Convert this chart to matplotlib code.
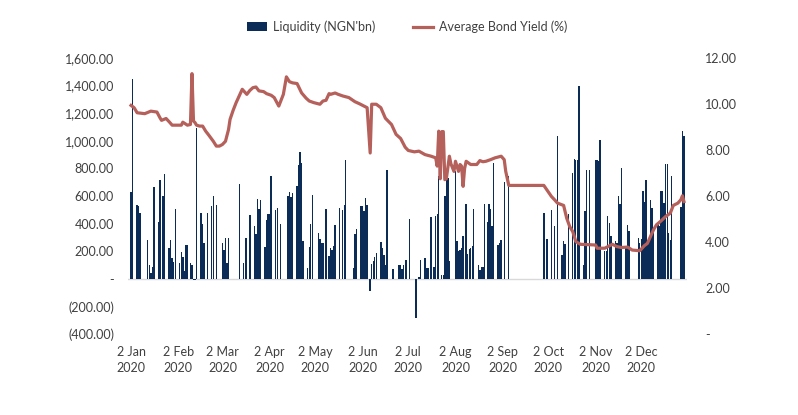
import numpy as np
import pandas as pd
import matplotlib
matplotlib.use("Agg")
import matplotlib.pyplot as plt
from matplotlib.ticker import FuncFormatter
from matplotlib.patches import Patch
from matplotlib.lines import Line2D

plt.rcParams['font.family'] = ['Lato', 'DejaVu Sans']

# ---------------- data (days counted from 1 Jan 2020) ----------------
liq_day = [1, 2, 5, 6, 7, 12, 13, 14, 15, 16, 19, 20, 22, 23, 26, 27, 28, 29, 30,
           33, 34, 35, 36, 37, 38, 40, 41, 42, 43, 44,
           47, 48, 49, 51, 54, 55, 57, 61, 62, 63, 64, 65, 72, 75, 76, 77, 79,
           82, 83, 84, 85, 86, 89, 90, 91, 92, 93, 96, 97, 99,
           104, 105, 106, 107, 110, 111, 112, 113, 114, 117, 118, 119, 120,
           124, 125, 126, 127, 129, 131, 132, 133, 134, 135, 138, 140, 141, 142,
           147, 148, 149, 152, 153, 154, 155, 156, 158, 159, 160, 161, 162,
           165, 166, 167, 168, 169, 173, 177, 178, 179, 180, 181, 182, 184,
           188, 190, 191, 194, 195, 196, 198, 200, 201, 202, 203, 205, 206, 207,
           208, 209, 210, 214, 215, 216, 217, 218, 219, 221, 222, 223, 224, 225,
           226, 229, 230, 231, 232, 233, 235, 236, 237, 238, 239, 242, 243, 244,
           246, 249, 272, 274, 277, 279, 281, 284, 285, 286, 288, 291, 292, 293,
           294, 295, 298, 299, 300, 302, 306, 307, 308, 309, 312, 313, 314, 315,
           316, 319, 320, 321, 322, 323, 326, 327, 328, 334, 335, 336, 337, 338,
           339, 340, 341, 342, 343, 344, 347, 348, 349, 350, 351, 352, 353, 354,
           355, 356, 362, 363, 364]
liq_value = [630, 1450, 535, 530, 475, 283, 101, 41, 89, 662, 408, 717, 597, 761, 222, 283, 150, 120, 507,
             115, 195, 160, 60, 245, 245, 118, 100, -6, -6, 1090,
             480, 398, 263, 480, 524, 601, 536, 263, 210, 295, 118, 295, 688, 114, 295, 295, 464,
             379, 326, 577, 507, 572, 234, 423, 467, 467, 742, 495, 514, 398,
             601, 628, 592, 625, 674, 826, 922, 838, 275, 77, 229, 398, 609,
             331, 290, 263, 263, 505, 162, 222, 210, 239, 391, 515, 500, 536, 862,
             77, 326, 360, 529, 529, 488, 585, 536, -92, 109, 126, 157, 188,
             266, 222, 174, 101, 790, 70, 101, 101, 70, 101, 138, 138, 432,
             -285, 12, 138, 150, 77, 77, 451, 85, 457, 471, 742, 29, 29, 597,
             730, 730, 130, 778, 271, 198, 210, 222, 312, 543, 181, 215, 222, 239,
             505, 101, 65, 89, 89, 543, 415, 543, 507, 384, 838, 246, 258, 283,
             705, 742, 480, 290, 500, 384, 1036, 174, 275, 254, 471, 766, 867, 862,
             862, 1399, 101, 488, 790, 790, 862, 862, 855, 1007, 203, 198, 457, 403,
             307, 271, 263, 597, 543, 802, 222, 391, 343, 295, 258, 290, 633, 553,
             717, 258, 283, 572, 512, 336, 391, 384, 633, 633, 548, 833, 833, 331,
             283, 746, 517, 1072, 1036]

yield_day = [1, 3, 5, 10, 14, 18, 20, 21, 24, 26, 28, 34, 35, 38, 40, 41, 42, 43, 44, 46,
             48, 50, 52, 55, 57, 59, 61, 63, 65, 66, 68, 70, 72, 74, 77, 79, 81, 83, 85,
             88, 90, 93, 95, 98, 101, 103, 105, 107, 110, 113, 116, 118, 121, 125, 127,
             129, 131, 132, 135, 137, 140, 144, 148, 151, 154, 156, 158, 159, 162, 165,
             168, 172, 175, 178, 181, 183, 185, 187, 190, 194, 198, 201, 202, 203, 204,
             205, 206, 207, 208, 210, 211, 213, 214, 216, 217, 218, 219, 220, 221, 224,
             228, 230, 232, 234, 237, 240, 244, 246, 247, 249, 272, 274, 277, 279, 281,
             285, 287, 289, 291, 293, 296, 306, 307, 312, 317, 320, 323, 327, 330, 335,
             338, 340, 342, 344, 346, 349, 352, 355, 357, 360, 362, 363, 364]
yield_value = [9.94, 9.84, 9.62, 9.58, 9.69, 9.65, 9.40, 9.29, 9.37, 9.23, 9.08, 9.08, 9.21, 9.08,
               9.11, 11.32, 9.26, 9.19, 9.08, 9.04,
               9.04, 8.82, 8.65, 8.38, 8.17, 8.17, 8.24, 8.38, 8.89, 9.33, 9.72, 10.06, 10.35,
               10.64, 10.42, 10.59, 10.71, 10.74, 10.57,
               10.54, 10.45, 10.38, 10.28, 9.91, 10.42, 11.18, 10.97, 10.92, 10.89, 10.48, 10.25,
               10.13, 10.06, 9.99, 10.13,
               10.16, 10.45, 10.42, 10.48, 10.42, 10.35, 10.28, 10.10, 10.01, 9.91, 9.84, 7.87,
               9.99, 9.99, 9.84,
               9.38, 9.11, 8.68, 8.50, 8.12, 7.98, 7.95, 7.92, 7.95, 7.80, 7.73, 7.66, 7.30,
               8.82, 6.75,
               8.80, 8.80, 6.71, 6.75, 7.73, 7.40, 7.07, 7.51, 7.07, 7.37, 7.30, 6.42, 7.20,
               7.51, 7.37,
               7.37, 7.54, 7.49, 7.51, 7.58, 7.66, 7.73, 7.58, 7.07, 6.46, 6.46, 6.27, 5.98,
               5.84, 5.69,
               5.59, 5.04, 4.67, 4.45, 4.02, 3.90, 3.87, 3.73, 3.73, 3.90, 3.80, 3.76, 3.78,
               3.65, 3.62,
               3.84, 3.94, 4.24, 4.53, 4.75, 4.92, 5.11, 5.25, 5.59, 5.69, 5.84, 6.01, 5.76]

tick_dates = ["2020-01-02", "2020-02-02", "2020-03-02", "2020-04-02", "2020-05-02",
              "2020-06-02", "2020-07-02", "2020-08-02", "2020-09-02", "2020-10-02",
              "2020-11-02", "2020-12-02"]
tick_labels = ["2 Jan\n2020", "2 Feb\n2020", "2 Mar\n2020", "2 Apr\n2020", "2 May\n2020",
               "2 Jun\n2020", "2 Jul\n2020", "2 Aug\n2020", "2 Sep\n2020", "2 Oct\n2020",
               "2 Nov\n2020", "2 Dec\n2020"]

BAR = "#0A2C57"
LINE = "#B5605A"
TXT = "#404040"

start = pd.Timestamp("2020-01-01")
liq_dates = start + pd.to_timedelta(liq_day, unit="D")
yield_dates = start + pd.to_timedelta(yield_day, unit="D")

fig = plt.figure(figsize=(7.98, 4.15), dpi=100)
ax = fig.add_axes([0.1604, 0.1952, 0.7005, 0.665])
ax2 = ax.twinx()

ax.axhline(0, color="#D9D9D9", lw=1.0, zorder=1)
ax.bar(liq_dates, liq_value, width=0.9, color=BAR, edgecolor="none", zorder=2)
ax2.plot(yield_dates, yield_value, color=LINE, lw=2.3, solid_joinstyle="round", zorder=3)

ax.set_ylim(-400, 1600)
ax.set_yticks(np.arange(-400, 1601, 200))
ax2.set_ylim(0, 12)
ax2.set_yticks(np.arange(0, 13, 2))

def fmt_left(v, pos):
    if abs(v) < 1e-9:
        return "-"
    if v < 0:
        return "({:,.2f})".format(-v)
    return "{:,.2f}".format(v)

def fmt_right(v, pos):
    if abs(v) < 1e-9:
        return "-"
    return "{:.2f}".format(v)

ax.yaxis.set_major_formatter(FuncFormatter(fmt_left))
ax2.yaxis.set_major_formatter(FuncFormatter(fmt_right))

ax.set_xlim(pd.Timestamp("2019-12-31"), pd.Timestamp("2021-01-01"))
ax.set_xticks(pd.to_datetime(tick_dates))
ax.set_xticklabels(tick_labels, linespacing=1.35)

for a in (ax, ax2):
    for s in a.spines.values():
        s.set_visible(False)
    a.tick_params(length=0, colors=TXT, labelsize=9)
ax.tick_params(axis="y", pad=10)
ax2.tick_params(axis="y", pad=13)
ax.tick_params(axis="x", pad=9)

handles = [Patch(facecolor=BAR, edgecolor="none"),
           Line2D([0], [0], color=LINE, lw=2.3)]
fig.legend(handles, ["Liquidity (NGN'bn)", "Average Bond Yield (%)"],
           loc="center", bbox_to_anchor=(0.51, 0.935), ncol=2, frameon=False,
           fontsize=9, labelcolor=TXT, handlelength=1.6, columnspacing=3.0,
           handletextpad=0.5)

fig.savefig("out.png", dpi=100, facecolor="white")
